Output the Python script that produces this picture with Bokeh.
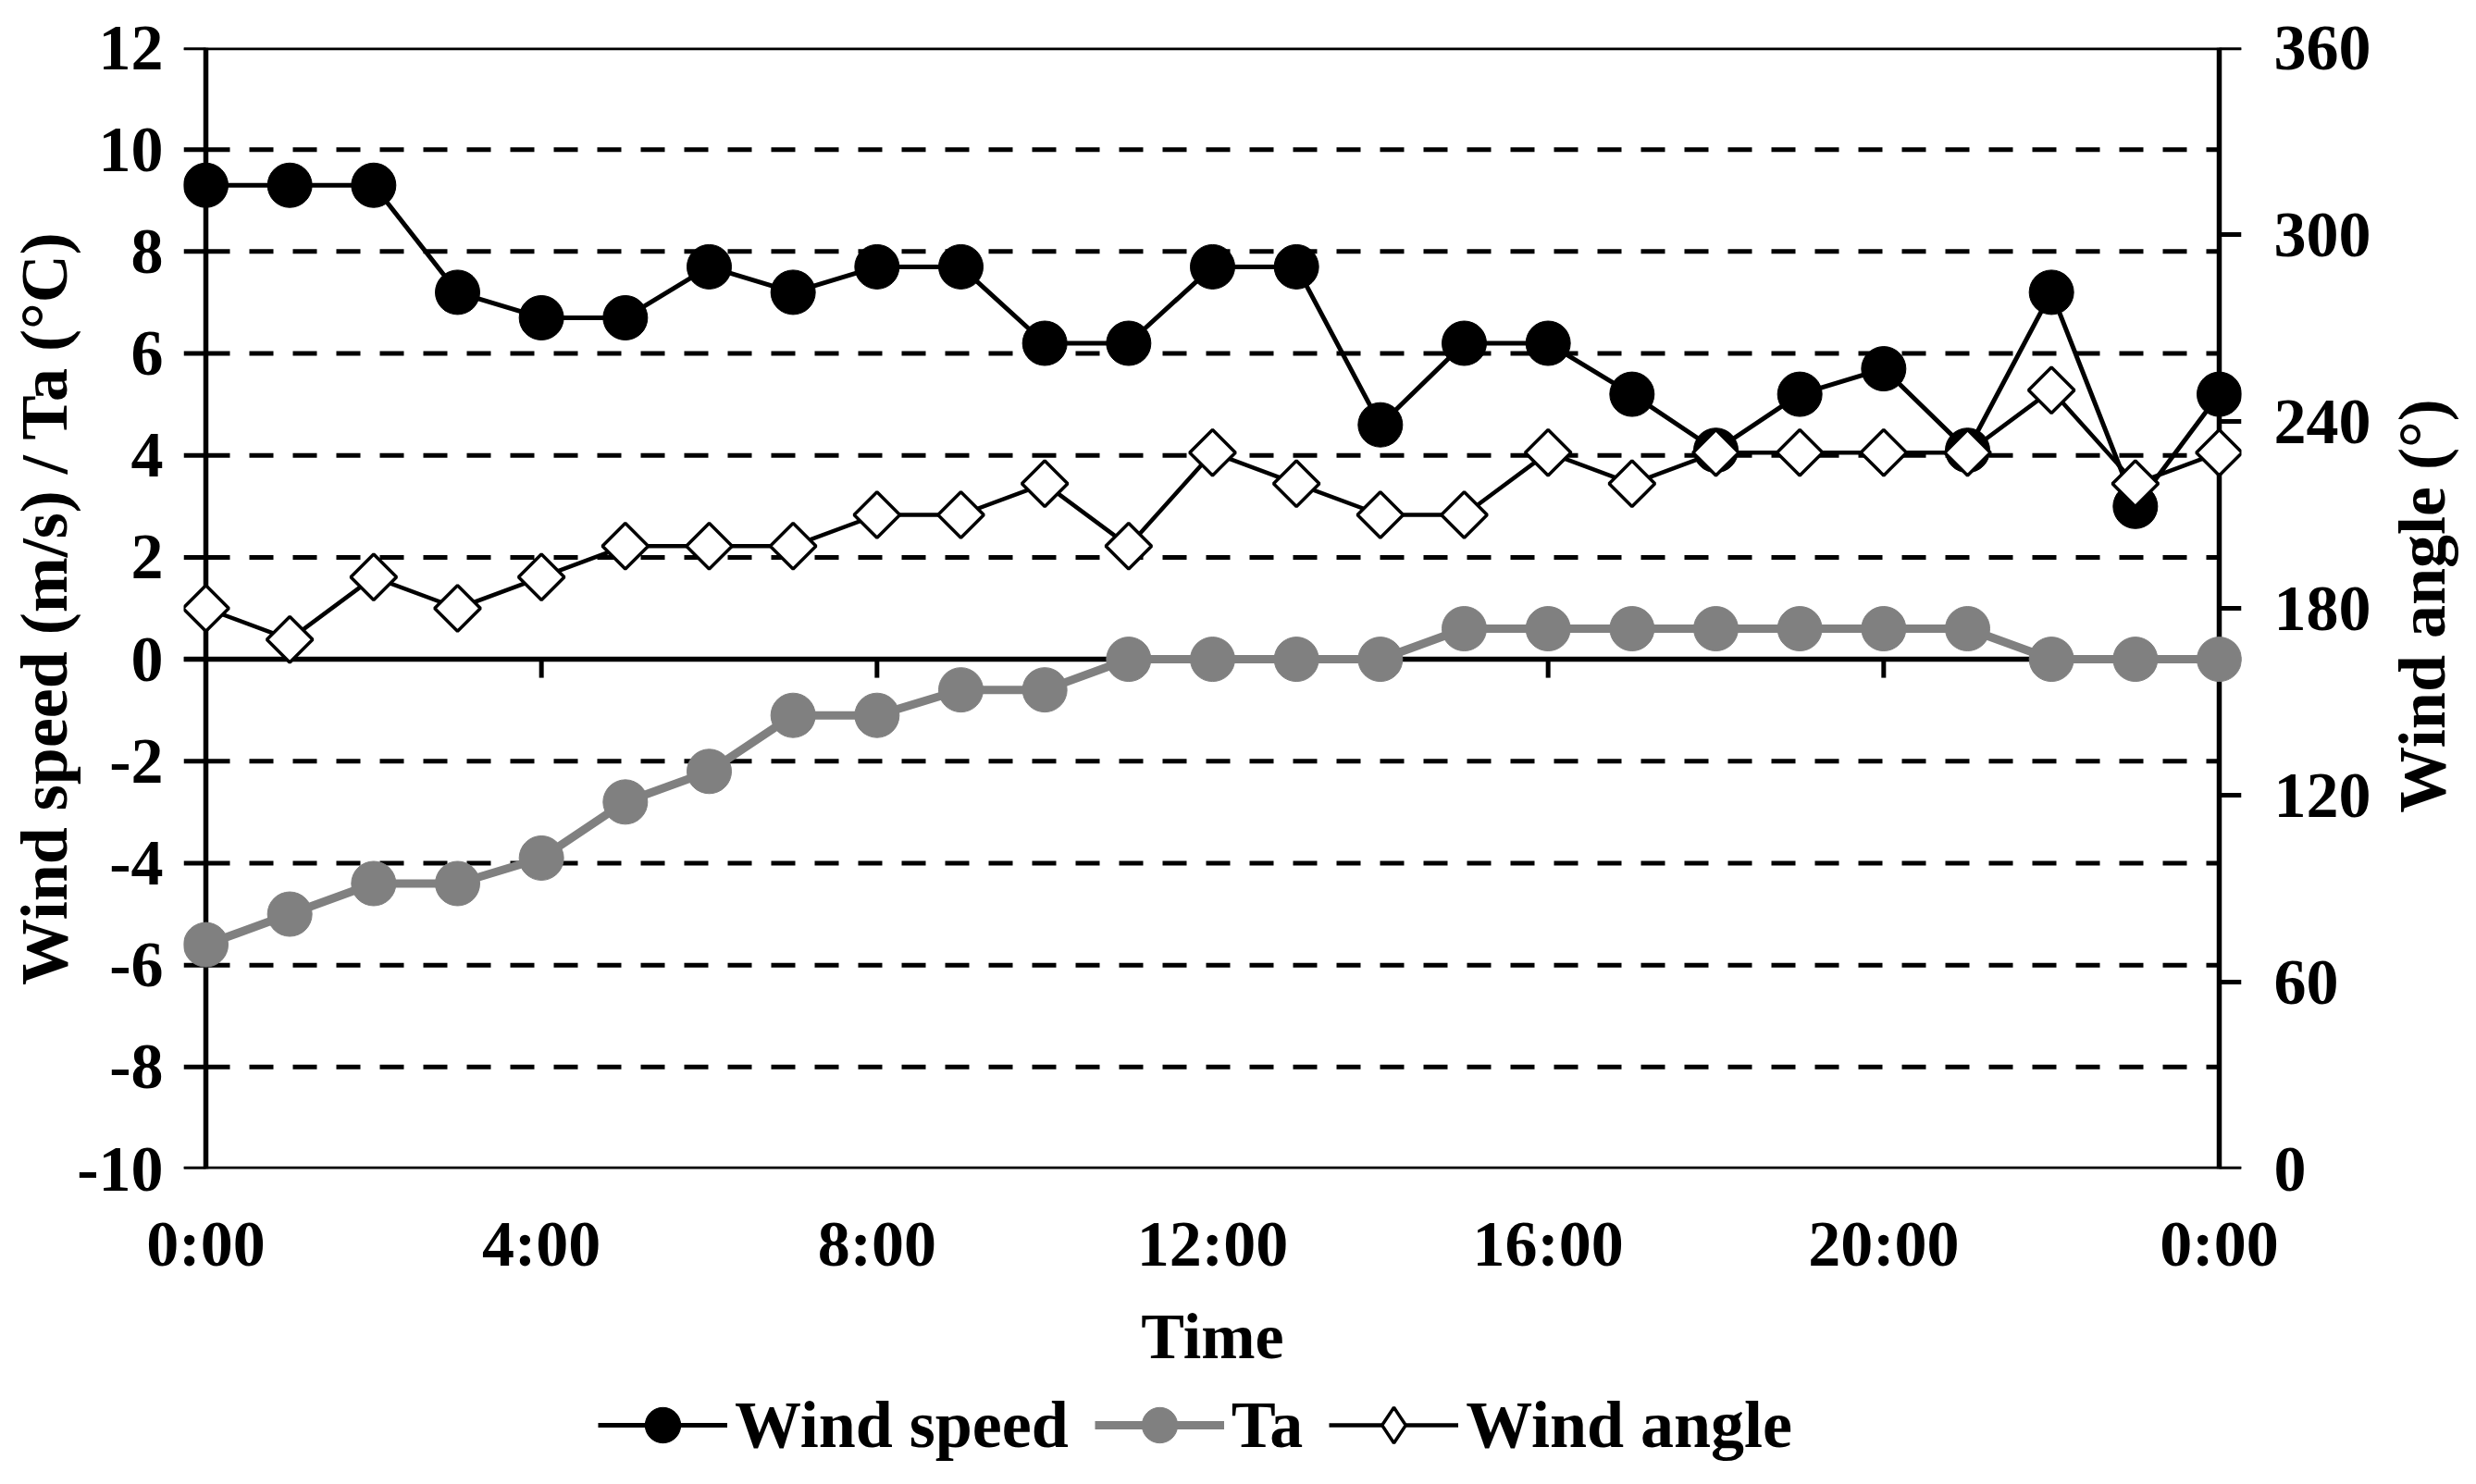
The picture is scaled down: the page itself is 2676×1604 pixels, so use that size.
import math
from bokeh.plotting import figure
from bokeh.layouts import column, row
from bokeh.models import Range1d, LinearAxis, FixedTicker, Span, Legend, LegendItem
from bokeh.core.properties import value
from bokeh.embed import file_html
from bokeh.resources import INLINE

# ---------------- data ----------------
hours = list(range(25))
wind_speed = [9.3, 9.3, 9.3, 7.2, 6.7, 6.7, 7.7, 7.2, 7.7, 7.7, 6.2, 6.2, 7.7, 7.7, 4.6,
              6.2, 6.2, 5.2, 4.1, 5.2, 5.7, 4.1, 7.2, 3.0, 5.2]
ta = [-5.6, -5.0, -4.4, -4.4, -3.9, -2.8, -2.2, -1.1, -1.1, -0.6, -0.6, 0.0, 0.0, 0.0, 0.0,
      0.6, 0.6, 0.6, 0.6, 0.6, 0.6, 0.6, 0.0, 0.0, 0.0]
wind_angle = [180, 170, 190, 180, 190, 200, 200, 200, 210, 210, 220, 200, 230, 220, 210,
              210, 230, 220, 230, 230, 230, 230, 250, 220, 230]

x_ticks = [0, 4, 8, 12, 16, 20, 24]
x_tick_labels = ["0:00", "4:00", "8:00", "12:00", "16:00", "20:00", "0:00"]
y_ticks = [-10, -8, -6, -4, -2, 0, 2, 4, 6, 8, 10, 12]
y_tick_labels = ["-10", "-8", "-6", "-4", "-2", "0", "2", "4", "6", "8", "10", "12"]
grid_ticks = [-8, -6, -4, -2, 2, 4, 6, 8, 10]
angle_ticks = [0, 60, 120, 180, 240, 300, 360]

y_label = "Wind speed (m/s) / Ta (°C)"
y2_label = "Wind angle (°)"
x_label = "Time"
series_names = ["Wind speed", "Ta", "Wind angle"]

# ---------------- layout ----------------
TOTAL_W, TOTAL_H = 2660, 1588
RW = 93            # strip for the right-hand axis title
BL, BR, BT, BB = 198, 145, 51, 229
FH = 1212
MW = TOTAL_W - RW
MH = BT + FH + BB
LH = TOTAL_H - MH  # strip for the legend
FW = MW - BL - BR
TICK = 24
x0, x1 = hours[0], hours[-1]
pxph = (FW - 2 * TICK) / (x1 - x0)
pad = TICK / pxph
y0, y1 = -10, 12
tick_h = 20 * (y1 - y0) / FH

FONT = "Liberation Serif"
GRAY = "#808080"

p = figure(width=MW, height=MH, x_range=Range1d(x0 - pad, x1 + pad), y_range=Range1d(y0, y1),
           output_backend="svg", toolbar_location=None,
           min_border_left=BL, min_border_right=BR, min_border_top=BT, min_border_bottom=BB)
p.outline_line_color = None
p.xgrid.visible = False
p.ygrid.visible = False
p.background_fill_color = "white"
p.border_fill_color = "white"

p.extra_y_ranges = {"angle": Range1d(0, 360)}

xa = p.xaxis[0]
xa.ticker = FixedTicker(ticks=x_ticks)
xa.major_label_overrides = {t: l for t, l in zip(x_ticks, x_tick_labels)}
xa.major_label_standoff = 42
xa.axis_label = x_label
xa.axis_label_standoff = 20

ya = p.yaxis[0]
ya.ticker = FixedTicker(ticks=y_ticks)
ya.major_label_overrides = {t: l for t, l in zip(y_ticks, y_tick_labels)}
ya.major_label_standoff = 22
ya.axis_label = y_label
ya.axis_label_standoff = -8

ra = LinearAxis(y_range_name="angle", ticker=FixedTicker(ticks=angle_ticks))
ra.major_label_standoff = 35
p.add_layout(ra, "right")

for ax in (xa, ya, ra):
    ax.major_tick_out = 0
    ax.major_tick_in = 0
    ax.minor_tick_out = 0
    ax.minor_tick_in = 0
    ax.axis_line_color = None
    ax.major_label_text_font = FONT
    ax.major_label_text_font_style = "bold"
    ax.major_label_text_font_size = "70px"
    ax.major_label_text_color = "black"
    ax.axis_label_text_font = FONT
    ax.axis_label_text_font_style = "bold"
    ax.axis_label_text_font_size = "72px"
    ax.axis_label_text_color = "black"
xa.axis_label_text_font_size = "70px"

# dashed grid between the two axes
p.segment(x0=[x0] * len(grid_ticks), x1=[x1] * len(grid_ticks), y0=grid_ticks, y1=grid_ticks,
          line_color="black", line_width=5, line_dash="26 21")

# axis lines
for loc, dim in ((x0, "height"), (x1, "height"), (y1, "width"), (y0, "width"), (0, "width")):
    p.add_layout(Span(location=loc, dimension=dim, line_color="black", line_width=5.5, level="underlay"))

# tick marks
p.segment(x0=[x0 - pad] * len(y_ticks), x1=[x0] * len(y_ticks), y0=y_ticks, y1=y_ticks,
          line_color="black", line_width=5)
p.segment(x0=[x1] * len(angle_ticks), x1=[x1 + pad] * len(angle_ticks), y0=angle_ticks, y1=angle_ticks,
          line_color="black", line_width=5, y_range_name="angle")
inner = [t for t in x_ticks if x0 < t < x1]
p.segment(x0=inner, x1=inner, y0=[0] * len(inner), y1=[-tick_h] * len(inner),
          line_color="black", line_width=5)

# series
WS_STYLE = dict(line=dict(line_color="black", line_width=5),
                mark=dict(marker="circle", size=48, fill_color="black", line_color="black"))
TA_STYLE = dict(line=dict(line_color=GRAY, line_width=9),
                mark=dict(marker="circle", size=48, fill_color=GRAY, line_color=GRAY))
WA_STYLE = dict(line=dict(line_color="black", line_width=4.5),
                mark=dict(marker="square", angle=math.pi / 4, size=35, fill_color="white",
                          line_color="black", line_width=3.5))

p.line(hours, wind_speed, **WS_STYLE["line"])
p.scatter(hours, wind_speed, **WS_STYLE["mark"])
p.line(hours, ta, **TA_STYLE["line"])
p.scatter(hours, ta, **TA_STYLE["mark"])
p.line(hours, wind_angle, y_range_name="angle", **WA_STYLE["line"])
p.scatter(hours, wind_angle, y_range_name="angle", **WA_STYLE["mark"])

# ---- right-hand axis title strip ----
RT_SHIFT = 86  # compensation for the rotated text anchor
rt = figure(width=RW, height=MH, x_range=Range1d(0, RW), y_range=Range1d(0, MH),
            output_backend="svg", toolbar_location=None,
            x_axis_location=None, y_axis_location=None, min_border=0)
rt.outline_line_color = None
rt.grid.visible = False
rt.text(x=[RW / 2 + 4], y=[MH - BT - FH / 2 - RT_SHIFT], text=[y2_label], angle=math.pi / 2,
        text_align="center", text_baseline="middle",
        text_font=value(FONT), text_font_style="bold", text_font_size="72px", text_color="black")

# ---- legend strip ----
nan = float("nan")
lg = figure(width=TOTAL_W, height=LH, x_range=Range1d(0, 1), y_range=Range1d(0, 1),
            output_backend="svg", toolbar_location=None,
            x_axis_location=None, y_axis_location=None, min_border=0)
lg.outline_line_color = None
lg.grid.visible = False
items = []
key_marks = [WS_STYLE["mark"], TA_STYLE["mark"],
             dict(marker="diamond", size=40, fill_color="white", line_color="black", line_width=3.5)]
for name, st, km in zip(series_names, (WS_STYLE, TA_STYLE, WA_STYLE), key_marks):
    rl = lg.line(x=[nan, nan], y=[nan, nan], **st["line"])
    rm = lg.scatter(x=[nan], y=[nan], **km)
    items.append(LegendItem(label=name, renderers=[rl, rm]))
legend = Legend(items=items, orientation="horizontal", location=(646, 0),
                label_text_font=FONT, label_text_font_style="bold", label_text_font_size="72px",
                label_text_color="black",
                glyph_width=140, glyph_height=LH, label_standoff=8, spacing=28,
                padding=0, margin=0, border_line_color=None, background_fill_alpha=0)
lg.add_layout(legend)

layout = column(row(p, rt), lg)
open("out.html", "w").write(file_html(layout, INLINE))
